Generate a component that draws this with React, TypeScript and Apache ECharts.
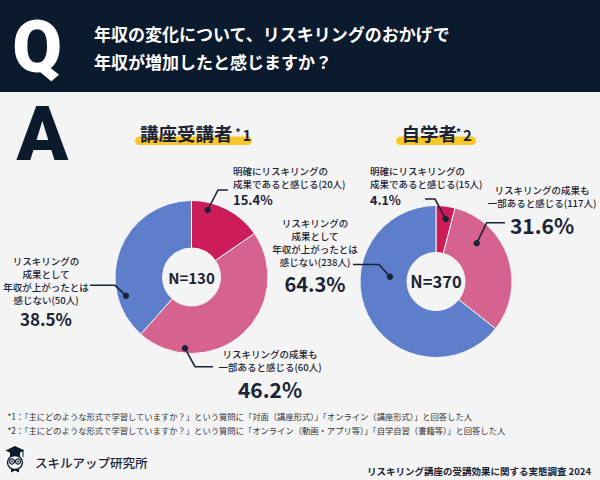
import React, { useEffect, useRef } from "react";
import * as echarts from "echarts";

// ---------- data ----------
const categories = [
  "明確にリスキリングの成果であると感じる",
  "リスキリングの成果も一部あると感じる",
  "リスキリングの成果として年収が上がったとは感じない",
];
const courseCounts = [20, 60, 50];
const selfCounts = [15, 117, 238];
const sliceColors = ["#cc1d5a", "#d5628f", "#5e7ecb"];
const groupTitles = ["講座受講者", "自学者"];
const groupMarks = ["1", "2"];
const questionLines = ["年収の変化について、リスキリングのおかげで", "年収が増加したと感じますか？"];
const courseLabelLines = [
  ["明確にリスキリングの", "成果であると感じる"],
  ["リスキリングの成果も", "一部あると感じる"],
  ["リスキリングの", "成果として", "年収が上がったとは", "感じない"],
];
const selfLabelLines = [
  ["明確にリスキリングの", "成果であると感じる"],
  ["リスキリングの成果も", "一部あると感じる"],
  ["リスキリングの", "成果として", "年収が上がったとは", "感じない"],
];
const footnotes = [
  "*1：「主にどのような形式で学習していますか？」という質問に「対面（講座形式）」「オンライン（講座形式）」と回答した人",
  "*2：「主にどのような形式で学習していますか？」という質問に「オンライン（動画・アプリ等）」「自学自習（書籍等）」と回答した人",
];
const brandName = "スキルアップ研究所";
const sourceText = "リスキリング講座の受講効果に関する実態調査 2024";

// ---------- layout ----------
const FONT = "'Noto Sans CJK JP', 'Noto Sans', sans-serif";
const NAVY = "#0c1a2e";
const INK = "#1b2335";
const BG = "#f4f4f4";

type Anno = {
  tx: number; ty: number; align: "left" | "center";
  px: number; py: number; pSize: number;
  line: number[][];
};

const courseAnno: Anno[] = [
  { tx: 233, ty: 164.5, align: "left", px: 233, py: 199.5, pSize: 13, line: [[207.7, 210], [218, 190], [228, 190]] },
  { tx: 270, ty: 347.5, align: "center", px: 270, py: 388.5, pSize: 21, line: [[185, 348.3], [195, 366.7], [213, 366.7]] },
  { tx: 46, ty: 254, align: "center", px: 46, py: 318.5, pSize: 17, line: [[126, 295.7], [115, 285.3], [90, 285.3]] },
];
const selfAnno: Anno[] = [
  { tx: 370, ty: 164.3, align: "left", px: 370, py: 199.5, pSize: 12.5, line: [[445.7, 219], [435, 199], [425, 199]] },
  { tx: 542, ty: 183.5, align: "center", px: 542, py: 225, pSize: 21, line: [[476.7, 243.3], [486.7, 222.7], [505, 222.7]] },
  { tx: 315, ty: 216, align: "center", px: 315, py: 283, pSize: 20, line: [[390, 276.7], [379, 264.5], [353, 264.5]] },
];

function buildAnnotations(counts: number[], lines: string[][], annos: Anno[]) {
  const total = counts.reduce((a, b) => a + b, 0);
  const els: any[] = [];
  counts.forEach((c, i) => {
    const a = annos[i];
    const ls = lines[i].slice();
    ls[ls.length - 1] = ls[ls.length - 1] + `(${c}人)`;
    const pct = ((c / total) * 100).toFixed(1) + "%";
    els.push({
      type: "text", x: a.tx, y: a.ty, z: 100,
      style: {
        text: ls.join("\n"), fill: INK, font: `500 9.5px ${FONT}`,
        lineHeight: 13.2, align: a.align, verticalAlign: "top",
      },
    });
    els.push({
      type: "text", x: a.px, y: a.py, z: 100,
      style: {
        text: pct, fill: INK, font: `bold ${a.pSize}px ${FONT}`,
        align: a.align, verticalAlign: "middle",
      },
    });
    els.push({
      type: "polyline", z: 100,
      shape: { points: a.line },
      style: { stroke: INK, lineWidth: 1.6, fill: null },
    });
    els.push({
      type: "circle", z: 101,
      shape: { cx: a.line[0][0], cy: a.line[0][1], r: 3.2 },
      style: { fill: INK },
    });
  });
  return els;
}

function pieSeries(counts: number[], center: number[], radius: number[]) {
  return {
    type: "pie",
    center,
    radius,
    startAngle: 90,
    clockwise: true,
    silent: true,
    label: { show: false },
    labelLine: { show: false },
    itemStyle: { borderColor: BG, borderWidth: 1 },
    data: counts.map((v, i) => ({ value: v, name: categories[i], itemStyle: { color: sliceColors[i] } })),
  };
}

export default function App() {
  const ref = useRef<HTMLDivElement>(null);
  useEffect(() => {
    document.body.style.margin = "0";
    const chart = echarts.init(ref.current!, null, { renderer: "svg" });
    const courseTotal = courseCounts.reduce((a, b) => a + b, 0);
    const selfTotal = selfCounts.reduce((a, b) => a + b, 0);

    const graphics: any[] = [
      { type: "rect", z: 0, shape: { x: 0, y: 0, width: 600, height: 92 }, style: { fill: NAVY } },
      { type: "text", x: 37, y: 47, z: 1, style: { text: "Q", fill: "#ffffff", font: `900 72px Roboto, ${FONT}`, align: "center", verticalAlign: "middle" } },
      { type: "text", x: 94, y: 33, z: 1, style: { text: questionLines[0], fill: "#ffffff", font: `bold 17px ${FONT}`, verticalAlign: "middle" } },
      { type: "text", x: 94, y: 61, z: 1, style: { text: questionLines[1], fill: "#ffffff", font: `bold 17px ${FONT}`, verticalAlign: "middle" } },
      { type: "text", x: 42.5, y: 134, z: 1, style: { text: "A", fill: NAVY, font: `900 76px Roboto, ${FONT}`, align: "center", verticalAlign: "middle" } },
      // group titles
      { type: "rect", z: 1, shape: { x: 135, y: 136.5, width: 117, height: 8.5, r: 4.25 }, style: { fill: "#fac72a" } },
      { type: "text", x: 140, y: 133, z: 2, style: { text: groupTitles[0], fill: INK, font: `bold 18.5px ${FONT}`, verticalAlign: "middle" } },
      { type: "text", x: 235.5, y: 131.5, z: 2, style: { text: "*", fill: INK, font: `bold 10px ${FONT}`, verticalAlign: "middle" } },
      { type: "text", x: 242.5, y: 134.5, z: 2, style: { text: groupMarks[0], fill: INK, font: `bold 15px ${FONT}`, verticalAlign: "middle" } },
      { type: "rect", z: 1, shape: { x: 396, y: 136.5, width: 80, height: 8.5, r: 4.25 }, style: { fill: "#fac72a" } },
      { type: "text", x: 401.5, y: 133, z: 2, style: { text: groupTitles[1], fill: INK, font: `bold 18.5px ${FONT}`, verticalAlign: "middle" } },
      { type: "text", x: 456, y: 131.5, z: 2, style: { text: "*", fill: INK, font: `bold 10px ${FONT}`, verticalAlign: "middle" } },
      { type: "text", x: 463, y: 134.5, z: 2, style: { text: groupMarks[1], fill: INK, font: `bold 15px ${FONT}`, verticalAlign: "middle" } },
      // center totals
      { type: "text", x: 191.5, y: 277, z: 10, style: { text: `N=${courseTotal}`, fill: INK, font: `bold 15px ${FONT}`, align: "center", verticalAlign: "middle" } },
      { type: "text", x: 436, y: 281, z: 10, style: { text: `N=${selfTotal}`, fill: INK, font: `bold 16.5px ${FONT}`, align: "center", verticalAlign: "middle" } },
      // footnotes
      { type: "text", x: 7.5, y: 415.5, z: 1, style: { text: footnotes[0], fill: "#333333", font: `8.3px ${FONT}`, verticalAlign: "middle" } },
      { type: "text", x: 7.5, y: 430, z: 1, style: { text: footnotes[1], fill: "#333333", font: `8.3px ${FONT}`, verticalAlign: "middle" } },
      // brand icon
      { type: "polygon", z: 1, shape: { points: [[15, 446], [24.5, 450.5], [15, 455], [5.5, 450.5]] }, style: { fill: NAVY } },
      { type: "rect", z: 1, shape: { x: 10, y: 452, width: 10, height: 4 }, style: { fill: NAVY } },
      { type: "line", z: 1, shape: { x1: 23, y1: 451, x2: 23, y2: 457 }, style: { stroke: NAVY, lineWidth: 1 } },
      { type: "ellipse", z: 1, shape: { cx: 15, cy: 462.5, rx: 7.5, ry: 7 }, style: { fill: "none", stroke: NAVY, lineWidth: 1.4 } },
      { type: "circle", z: 1, shape: { cx: 12, cy: 461.5, r: 2.5 }, style: { fill: "none", stroke: NAVY, lineWidth: 1.2 } },
      { type: "circle", z: 1, shape: { cx: 18, cy: 461.5, r: 2.5 }, style: { fill: "none", stroke: NAVY, lineWidth: 1.2 } },
      { type: "circle", z: 1, shape: { cx: 12, cy: 461.5, r: 0.9 }, style: { fill: NAVY } },
      { type: "circle", z: 1, shape: { cx: 18, cy: 461.5, r: 0.9 }, style: { fill: NAVY } },
      { type: "polygon", z: 1, shape: { points: [[11, 468], [15, 470], [19, 468], [19, 472.5], [15, 470.5], [11, 472.5]] }, style: { fill: NAVY } },
      { type: "text", x: 35, y: 462.7, z: 1, style: { text: brandName, fill: INK, font: `500 12.5px ${FONT}`, verticalAlign: "middle" } },
      { type: "text", x: 591, y: 470.5, z: 1, style: { text: sourceText, fill: INK, font: `bold 9.5px ${FONT}`, align: "right", verticalAlign: "middle" } },
      ...buildAnnotations(courseCounts, courseLabelLines, courseAnno),
      ...buildAnnotations(selfCounts, selfLabelLines, selfAnno),
    ];

    chart.setOption({
      animation: false,
      backgroundColor: BG,
      series: [
        pieSeries(courseCounts, [191.5, 277], [29, 76.5]),
        pieSeries(selfCounts, [436, 281.5], [29, 76]),
      ],
      graphic: graphics,
    });
    return () => chart.dispose();
  }, []);
  return <div ref={ref} style={{ width: 600, height: 480 }} />;
}
